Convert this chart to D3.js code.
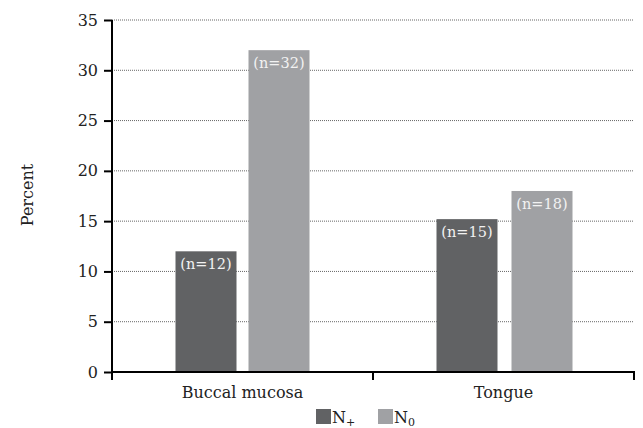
<!DOCTYPE html>
<html><head><meta charset="utf-8">
<script src="https://cdn.jsdelivr.net/npm/d3@7"></script>
<style>body{margin:0;background:#fff}svg{display:block}text{font-family:"DejaVu Serif",serif}</style>
</head><body><svg id="c" width="643" height="428"></svg>
<script>
const categories = ["Buccal mucosa", "Tongue"];
const seriesNames = ["N+", "N0"];
const nPlus = [12, 15.2];
const nZero = [32, 18];
const nPlusLabels = ["(n=12)", "(n=15)"];
const nZeroLabels = ["(n=32)", "(n=18)"];
const yTicks = [0, 5, 10, 15, 20, 25, 30, 35];
const colors = ["#616264", "#a0a1a4"];
const FONT = "DejaVu Serif, serif";

const svg = d3.select("#c");
const m = {l:112, r:634, t:20, b:372};
const x = d3.scaleBand().domain(categories).range([m.l, m.r]);
const y = d3.scaleLinear().domain([0, 35]).range([m.b, m.t]);
const barW = 61, gap = 12;

// gridlines
svg.append("g").selectAll("line").data(yTicks.filter(d => d > 0)).join("line")
  .attr("x1", m.l).attr("x2", m.r).attr("y1", d => y(d)).attr("y2", d => y(d))
  .attr("stroke", "#666").attr("stroke-width", 1).attr("stroke-dasharray", "1,1");

const data = categories.map((c, i) => [
  {c, v: nPlus[i], lab: nPlusLabels[i], s: 0},
  {c, v: nZero[i], lab: nZeroLabels[i], s: 1}
]).flat();

const bx = d => x(d.c) + x.bandwidth()/2 + (d.s === 0 ? -gap/2 - barW : gap/2) + (d.c === "Tongue" && d.s === 1 ? 2 : 0);

svg.append("g").selectAll("rect").data(data).join("rect")
  .attr("x", bx).attr("width", barW)
  .attr("y", d => y(d.v)).attr("height", d => y(0) - y(d.v))
  .attr("fill", d => colors[d.s]);

svg.append("g").selectAll("text").data(data).join("text")
  .attr("x", d => bx(d) + barW/2).attr("y", d => y(d.v) + 18)
  .attr("text-anchor", "middle").attr("fill", "#f2f2f2").attr("font-size", 14.5)
  .attr("font-family", FONT)
  .text(d => d.lab);

// y axis
const ya = svg.append("g").attr("transform", `translate(${m.l},0)`)
  .call(d3.axisLeft(y).tickValues(yTicks).tickSize(8).tickPadding(6));
ya.select(".domain").attr("stroke", "#000").attr("stroke-width", 2).attr("d", `M0,${m.t}V${m.b+8}`);
ya.selectAll(".tick line").attr("stroke", "#000").attr("stroke-width", 2);
ya.selectAll("text").attr("font-size", 16).attr("fill", "#222").attr("font-family", FONT);

// x axis
const xa = svg.append("g").attr("transform", `translate(0,${m.b})`);
xa.append("line").attr("x1", m.l).attr("x2", m.r+1).attr("y1", 0).attr("y2", 0).attr("stroke", "#000").attr("stroke-width", 2);
const xt = [m.l, ...categories.map(c => x(c) + x.bandwidth())];
xa.selectAll("line.t").data(xt).join("line").attr("class","t")
  .attr("x1", d => d).attr("x2", d => d).attr("y1", 0).attr("y2", 8)
  .attr("stroke", "#000").attr("stroke-width", 2);
xa.selectAll("text").data(categories).join("text")
  .attr("x", c => x(c) + x.bandwidth()/2).attr("y", 26)
  .attr("text-anchor", "middle").attr("font-size", 16).attr("fill", "#222")
  .attr("font-family", FONT).text(c => c);

// y title
svg.append("text").attr("transform", "translate(33,195) rotate(-90)")
  .attr("text-anchor", "middle").attr("font-size", 16).attr("fill", "#222")
  .attr("font-family", FONT).text("Percent");

// legend
const lg = svg.append("g");
const lx = [316, 378];
seriesNames.forEach((s, i) => {
  lg.append("rect").attr("x", lx[i]).attr("y", 409).attr("width", 15).attr("height", 15).attr("fill", colors[i]);
  const t = lg.append("text").attr("x", lx[i] + 16).attr("y", 423).attr("font-size", 16)
    .attr("fill", "#222").attr("font-family", FONT);
  t.append("tspan").text(s[0]);
  t.append("tspan").attr("font-size", 11).attr("dy", 3).text(s.slice(1));
});
</script></body></html>
